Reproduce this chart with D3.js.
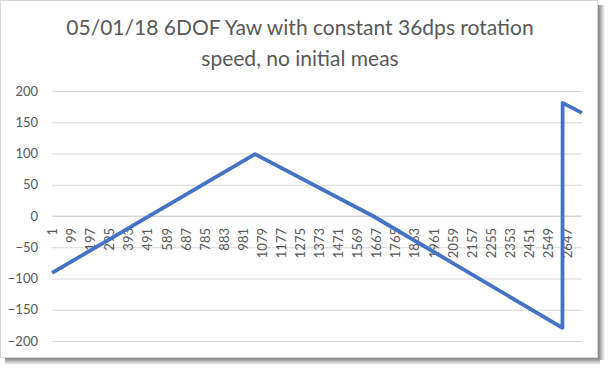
<!DOCTYPE html>
<html>
<head>
<meta charset="utf-8">
<script src="https://cdn.jsdelivr.net/npm/d3@7"></script>
<style>
  html, body { margin: 0; padding: 0; background: #ffffff; }
  svg { display: block; }
</style>
</head>
<body>
<svg id="chart" width="608" height="368"></svg>
<script>
// ---- data ----
const titleLines = ["05/01/18 6DOF Yaw with constant 36dps rotation", "speed, no initial meas"];
const categoryCount = 2724;               // number of samples on the category axis
const xLabelStep = 98;                    // Excel shows every 98th category label
const sampleIndex = [1, 1044, 1650, 2624, 2625, 2724];
const yawValues   = [-91, 99, 0, -179, 181, 165];
const yTicks = [-200, -150, -100, -50, 0, 50, 100, 150, 200];

// ---- layout ----
const svg = d3.select("#chart");
const W = 598, H = 358;
const plot = { left: 52, right: 582, top: 91, bottom: 341 };
const textColor = "#595959";
const font = "Lato, 'Liberation Sans', Arial, sans-serif";

// shadow
const defs = svg.append("defs");
const gR = defs.append("linearGradient").attr("id", "shR").attr("x1", 0).attr("x2", 1).attr("y1", 0).attr("y2", 0);
gR.append("stop").attr("offset", 0).attr("stop-color", "#7f7f7f");
gR.append("stop").attr("offset", 1).attr("stop-color", "#ffffff");
const gB = defs.append("linearGradient").attr("id", "shB").attr("x1", 0).attr("x2", 0).attr("y1", 0).attr("y2", 1);
gB.append("stop").attr("offset", 0).attr("stop-color", "#7f7f7f");
gB.append("stop").attr("offset", 1).attr("stop-color", "#ffffff");
svg.append("rect").attr("x", W).attr("y", 5).attr("width", 7).attr("height", H - 5 + 2).attr("fill", "url(#shR)");
svg.append("rect").attr("x", 5).attr("y", H).attr("width", W - 5 + 2).attr("height", 7).attr("fill", "url(#shB)");

svg.append("rect").attr("x", 0.5).attr("y", 0.5).attr("width", W - 1).attr("height", H - 1)
  .attr("fill", "#ffffff").attr("stroke", "#d9d9d9").attr("stroke-width", 1);

// scales
const x = d3.scaleLinear().domain([0.5, categoryCount + 0.5]).range([plot.left, plot.right]);
const y = d3.scaleLinear().domain([-200, 200]).range([plot.bottom, plot.top]);

// gridlines + y labels
const yAxis = d3.axisLeft(y).tickValues(yTicks).tickSize(-(plot.right - plot.left)).tickPadding(14).tickFormat(d3.format("d"));
const gy = svg.append("g").attr("transform", `translate(${plot.left},0)`).call(yAxis);
gy.select(".domain").remove();
gy.selectAll(".tick line").attr("stroke", "#d9d9d9").attr("stroke-width", 1);
gy.selectAll(".tick text").attr("fill", textColor).style("font-family", font).style("font-size", "13px");

// x axis at y=0 with rotated labels
const xLabels = d3.range(1, categoryCount + 1, xLabelStep);
const xAxis = d3.axisBottom(x).tickValues(xLabels).tickSize(0).tickPadding(0).tickFormat(d3.format("d"));
const gx = svg.append("g").attr("transform", `translate(0,${y(0)})`).call(xAxis);
gx.select(".domain").attr("stroke", "#d9d9d9").attr("d", `M${plot.left},0H${plot.right}`);
gx.selectAll(".tick text")
  .attr("fill", textColor).style("font-family", font).style("font-size", "13px")
  .attr("text-anchor", "end").attr("dy", "0.35em")
  .attr("transform", "translate(0,12) rotate(-90)")
  .attr("x", 0).attr("y", 0);

// line
const pts = sampleIndex.map((s, i) => [s, yawValues[i]]);
svg.append("path").datum(pts)
  .attr("fill", "none").attr("stroke", "#4472c4").attr("stroke-width", 3.8)
  .attr("stroke-linejoin", "round")
  .attr("d", d3.line().x(d => x(d[0])).y(d => y(d[1])));

// title
svg.append("g").selectAll("text").data(titleLines).join("text")
  .attr("x", 300).attr("y", (d, i) => 35 + i * 31)
  .attr("text-anchor", "middle").attr("fill", textColor)
  .style("font-family", font).style("font-size", "21px")
  .text(d => d);
</script>
</body>
</html>
